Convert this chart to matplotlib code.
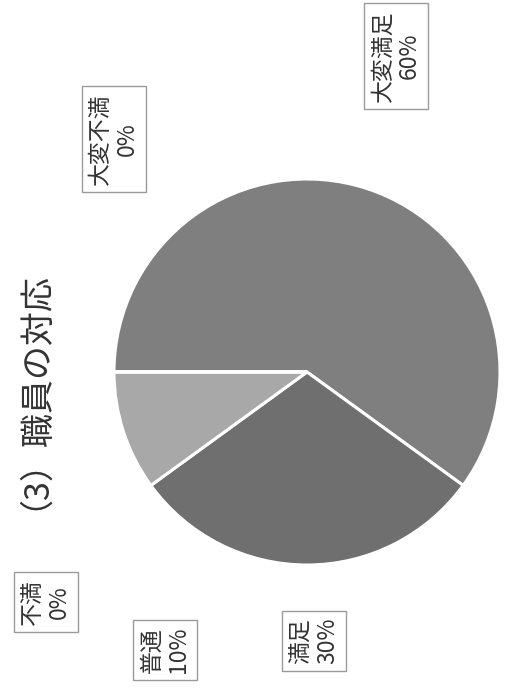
import matplotlib
matplotlib.use("Agg")
import matplotlib.pyplot as plt

plt.rcParams['font.family'] = ['Noto Sans CJK JP', 'DejaVu Sans']

# data
labels = ['大変満足', '満足', '普通', '不満', '大変不満']
values = [60, 30, 10, 0, 0]
colors = ['#7f7f7f', '#6f6f6f', '#a8a8a8', '#c0c0c0', '#d0d0d0']
title = '（3）職員の対応'

W, H = 510, 688
fig = plt.figure(figsize=(W / 100, H / 100), dpi=100)
ax = fig.add_axes([0, 0, 1, 1])

# pie (scan is turned 90deg, so 12 o'clock sits at the left)
cx, cy, r = 307, H - 372, 193
ax.pie(values, colors=colors, startangle=180, counterclock=False,
       center=(cx, cy), radius=r, frame=True,
       wedgeprops=dict(edgecolor='white', linewidth=2.2))
ax.set_xlim(0, W)
ax.set_ylim(0, H)
ax.set_aspect('equal')
ax.axis('off')

# title, rotated, hugging the left edge
ax.text(17, H - 382, title, rotation=90, ha='center', va='center',
        fontsize=24.5, color='#333333')

# data labels in boxes
label_pos = {
    '大変満足': (396, H - 56),
    '満足': (314, H - 641),
    '普通': (165, H - 650),
    '不満': (46, H - 602),
    '大変不満': (114, H - 139),
}
for name, v in zip(labels, values):
    x, y = label_pos[name]
    ax.text(x, y, f'{name}\n{v}%', rotation=90, ha='center', va='center',
            multialignment='center', fontsize=16.5, color='#333333',
            linespacing=1.2,
            bbox=dict(boxstyle='square,pad=0.3', facecolor='white',
                      edgecolor='#9a9a9a', linewidth=1))

fig.savefig('out.png', dpi=100, facecolor='white')
